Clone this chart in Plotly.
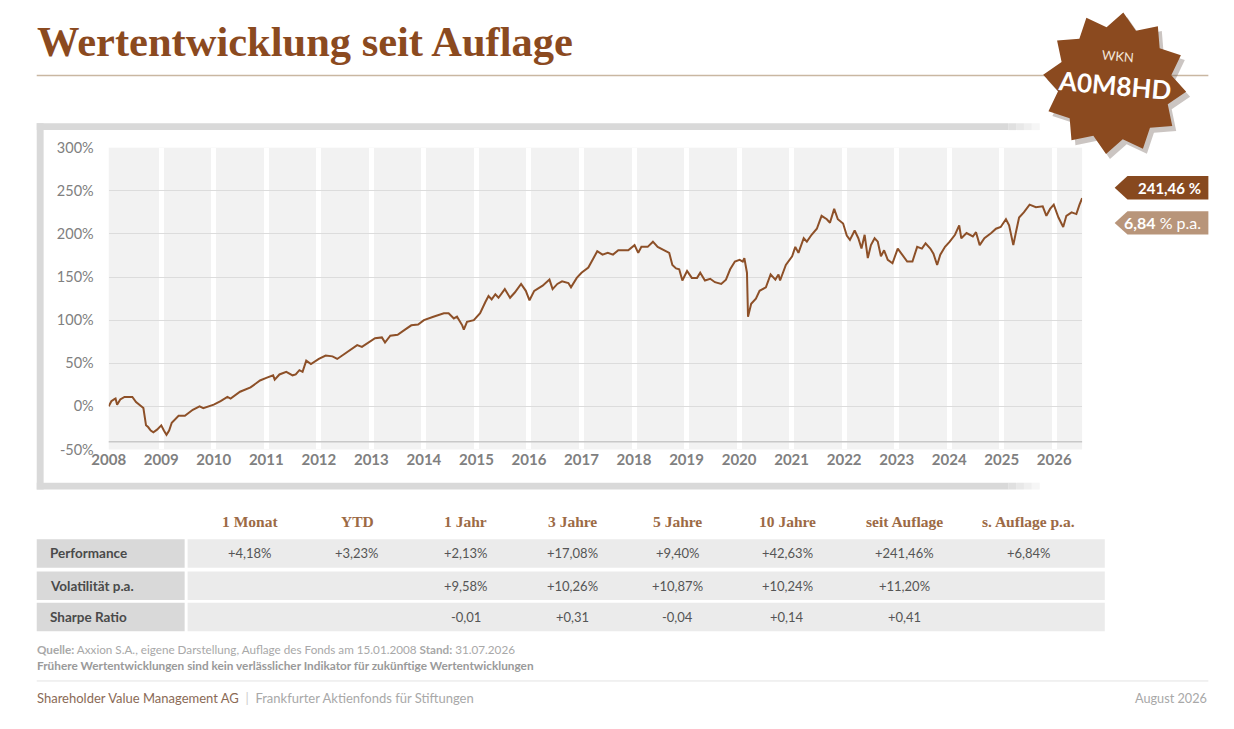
import math
import plotly.graph_objects as go

# fund performance since launch (decimal year, % since launch)
years = [
    2008.00, 2008.05, 2008.10, 2008.13, 2008.16, 2008.22, 2008.30, 2008.45, 2008.52, 2008.58,
    2008.66, 2008.71, 2008.75, 2008.80, 2008.85, 2008.92, 2009.00, 2009.05, 2009.10, 2009.15,
    2009.20, 2009.33, 2009.45, 2009.60, 2009.73, 2009.80, 2010.00, 2010.13, 2010.26, 2010.32,
    2010.50, 2010.70, 2010.88, 2011.00, 2011.13, 2011.16, 2011.25, 2011.38, 2011.50, 2011.56,
    2011.63, 2011.69, 2011.76, 2011.85, 2012.00, 2012.13, 2012.26, 2012.35, 2012.40, 2012.50,
    2012.63, 2012.73, 2012.82, 2012.95, 2013.07, 2013.20, 2013.26, 2013.36, 2013.50, 2013.64,
    2013.76, 2013.89, 2014.00, 2014.18, 2014.38, 2014.47, 2014.57, 2014.63, 2014.73, 2014.76,
    2014.82, 2014.95, 2015.07, 2015.17, 2015.23, 2015.29, 2015.36, 2015.42, 2015.54, 2015.64,
    2015.73, 2015.85, 2015.94, 2016.01, 2016.10, 2016.26, 2016.39, 2016.45, 2016.54, 2016.63,
    2016.75, 2016.80, 2016.91, 2017.00, 2017.13, 2017.23, 2017.30, 2017.40, 2017.50, 2017.60,
    2017.70, 2017.89, 2018.01, 2018.08, 2018.14, 2018.26, 2018.36, 2018.45, 2018.58, 2018.67,
    2018.73, 2018.80, 2018.86, 2018.92, 2019.01, 2019.10, 2019.20, 2019.26, 2019.35, 2019.45,
    2019.54, 2019.66, 2019.75, 2019.83, 2019.92, 2020.01, 2020.07, 2020.10, 2020.15, 2020.17,
    2020.23, 2020.32, 2020.39, 2020.51, 2020.60, 2020.69, 2020.75, 2020.78, 2020.89, 2021.01,
    2021.07, 2021.13, 2021.23, 2021.29, 2021.38, 2021.48, 2021.57, 2021.67, 2021.73, 2021.81,
    2021.88, 2021.98, 2022.05, 2022.11, 2022.20, 2022.27, 2022.33, 2022.39, 2022.45, 2022.51,
    2022.58, 2022.64, 2022.70, 2022.76, 2022.83, 2022.92, 2023.02, 2023.11, 2023.20, 2023.30,
    2023.39, 2023.48, 2023.55, 2023.64, 2023.70, 2023.77, 2023.83, 2023.92, 2024.01, 2024.11,
    2024.19, 2024.23, 2024.33, 2024.45, 2024.51, 2024.58, 2024.67, 2024.80, 2024.89, 2024.98,
    2025.08, 2025.14, 2025.22, 2025.27, 2025.33, 2025.42, 2025.53, 2025.65, 2025.78, 2025.85,
    2025.92, 2025.99, 2026.08, 2026.17, 2026.23, 2026.33, 2026.42, 2026.48, 2026.53,
]
perf = [
    0, 6, 8, 9, 2, 8, 11, 11, 5, 2,
    -2, -22, -24, -28, -30, -27, -22, -28, -33, -28,
    -19, -11, -11, -4, 0, -2, 2, 6, 11, 9,
    17, 22, 30, 33, 36, 31, 37, 40, 36, 37,
    42, 40, 53, 49, 55, 59, 58, 55, 57, 62,
    67, 71, 69, 74, 79, 80, 74, 82, 83, 89,
    94, 95, 100, 104, 108, 108, 102, 104, 94, 89,
    98, 100, 108, 121, 128, 124, 130, 126, 136, 126,
    132, 142, 134, 123, 134, 140, 147, 136, 142, 145,
    143, 138, 149, 155, 161, 172, 180, 176, 178, 176,
    181, 181, 187, 178, 185, 185, 191, 185, 181, 178,
    164, 160, 159, 146, 157, 149, 149, 155, 146, 148,
    144, 142, 147, 159, 168, 170, 168, 172, 155, 104,
    119, 125, 134, 138, 153, 147, 153, 146, 164, 174,
    185, 178, 195, 191, 199, 206, 221, 217, 213, 229,
    217, 212, 198, 193, 204, 195, 183, 199, 172, 187,
    195, 191, 174, 181, 170, 166, 183, 176, 168, 168,
    185, 183, 189, 183, 177, 164, 176, 185, 191, 199,
    210, 195, 201, 197, 202, 187, 195, 201, 206, 208,
    217, 210, 187, 202, 219, 225, 234, 231, 232, 221,
    229, 234, 219, 208, 221, 225, 223, 234, 241.46,
]
year_ticks = list(range(2008, 2027))
pct_ticks = [-50, 0, 50, 100, 150, 200, 250, 300]

total_label = "241,46 %"
pa_label = "6,84"
wkn = "A0M8HD"

headers = ["1 Monat", "YTD", "1 Jahr", "3 Jahre", "5 Jahre", "10 Jahre", "seit Auflage", "s. Auflage p.a."]
row_labels = ["Performance", "Volatilität p.a.", "Sharpe Ratio"]
performance = ["+4,18%", "+3,23%", "+2,13%", "+17,08%", "+9,40%", "+42,63%", "+241,46%", "+6,84%"]
volatility = ["", "", "+9,58%", "+10,26%", "+10,87%", "+10,24%", "+11,20%", ""]
sharpe = ["", "", "-0,01", "+0,31", "-0,04", "+0,14", "+0,41", ""]

W, H = 1234, 729
BROWN = "#8b4a1f"
SANS = "Lato"
SERIF = "Liberation Serif"


def px(x):
    return x / W


def py(y):
    return 1 - y / H


def rect(x0, y0, x1, y1, color, layer="above"):
    return dict(type="rect", xref="paper", yref="paper", x0=px(x0), x1=px(x1),
                y0=py(y1), y1=py(y0), fillcolor=color, line=dict(width=0), layer=layer)


def poly(points, color, opacity=1.0):
    d = "M " + " L ".join("{:.5f},{:.5f}".format(px(a), py(b)) for a, b in points) + " Z"
    return dict(type="path", xref="paper", yref="paper", path=d, fillcolor=color,
                line=dict(width=0), opacity=opacity)


def star(cx, cy, r_out, r_in, n, rot):
    pts = []
    for i in range(2 * n):
        r = r_out if i % 2 == 0 else r_in
        a = rot + math.pi * i / n
        pts.append((cx + r * math.sin(a), cy - r * math.cos(a)))
    return pts


fig = go.Figure()
fig.add_trace(go.Scatter(x=years, y=perf, mode="lines", hoverinfo="skip",
                         line=dict(color="#8d5028", width=2)))

shapes = []
# chart frame
shapes.append(rect(20, 117, 1005, 124, "#d9d9d9", "below"))
shapes.append(rect(20, 485, 1005, 492, "#d9d9d9", "below"))
shapes.append(rect(20, 117, 27, 492, "#d9d9d9", "below"))
for k, c in enumerate(["#e0e0e0", "#e8e8e8", "#efefef", "#f6f6f6"]):
    shapes.append(rect(1005 + 8 * k, 117, 1013 + 8 * k, 124, c, "below"))
    shapes.append(rect(1005 + 8 * k, 485, 1013 + 8 * k, 492, c, "below"))
# x axis line
shapes.append(dict(type="line", xref="x domain", yref="y", x0=0, x1=1, y0=-41, y1=-41,
                   line=dict(color="#c8c8c8", width=1.5)))
# title rule
shapes.append(dict(type="line", xref="paper", yref="paper", x0=px(20), x1=px(1208),
                   y0=py(68), y1=py(68), line=dict(color="#c9b7a2", width=1.5)))
# badge
shapes.append(poly(star(1117, 81, 73, 58, 12, 0.12), "#6b5a50", 0.35))
shapes.append(poly(star(1113, 76, 73, 58, 12, 0.12), BROWN))
# tags
shapes.append(poly([(1113, 183), (1126, 171), (1208, 171), (1208, 195), (1126, 195)], "#87491f"))
shapes.append(poly([(1113, 219), (1126, 207), (1208, 207), (1208, 231), (1126, 231)], "#b8957a"))
# footer rule
shapes.append(dict(type="line", xref="paper", yref="paper", x0=px(20), x1=px(1208),
                   y0=py(688), y1=py(688), line=dict(color="#e3e3e3", width=1)))

# table cells
row_y = [(543, 572), (576, 605), (608, 637)]
col_x = [236, 345, 455, 563, 670, 781, 900, 1026]
for y0, y1 in row_y:
    shapes.append(rect(20, y0, 170, y1, "#d9d9d9"))
    shapes.append(rect(173, y0, 1103, y1, "#ebebeb"))

ann = []


def text(x, y, s, size, color, family=SANS, xanchor="left", weight="normal", angle=0):
    ann.append(dict(xref="paper", yref="paper", x=px(x), y=py(y), text=s, showarrow=False,
                    xanchor=xanchor, yanchor="middle", textangle=angle,
                    font=dict(family=family, size=size, color=color, weight=weight)))


text(18, 33, "Wertentwicklung seit Auflage", 42.5, BROWN, SERIF, weight="bold")
text(1116, 48, "WKN", 13, "#f3e6da", angle=5, xanchor="center")
text(1113, 78, wkn, 26, "white", angle=5, xanchor="center", weight="bold")
text(1203, 183, total_label, 15, "white", xanchor="right", weight="bold")
text(1203, 219, "<b>" + pa_label + "</b> % p.a.", 16, "white", xanchor="right")

for cx, h in zip(col_x, headers):
    text(cx, 525, h, 15.5, "#9c6a45", SERIF, xanchor="center", weight="bold")
for (y0, y1), lab, vals in zip(row_y, row_labels, [performance, volatility, sharpe]):
    cy = (y0 + y1) / 2
    text(31, cy, lab, 13.5, "#4a4a4a", weight="bold")
    for cx, v in zip(col_x, vals):
        if v:
            text(cx, cy, v, 13, "#555555", xanchor="center")

text(18, 655, "<b>Quelle:</b> Axxion S.A., eigene Darstellung, Auflage des Fonds am 15.01.2008 "
     "<b>Stand:</b> 31.07.2026", 11.7, "#a8a8a8")
text(18, 672, "<b>Frühere Wertentwicklungen sind kein verlässlicher Indikator für zukünftige "
     "Wertentwicklungen</b>", 11.8, "#9a9a9a")
text(18, 705, "<span style='color:#8a6a55'>Shareholder Value Management AG</span>"
     "<span style='color:#cccccc'>  |  </span>Frankfurter Aktienfonds für Stiftungen",
     13, "#a8a8a8")
text(1209, 705, "August 2026", 12.7, "#a8a8a8", xanchor="right")

fig.update_layout(
    width=W, height=H, margin=dict(l=0, r=0, t=0, b=0),
    paper_bgcolor="white", plot_bgcolor="#f2f2f2", showlegend=False,
    shapes=shapes, annotations=ann,
)
fig.update_xaxes(domain=[px(93), px(1080)], range=[2008, 2026.53], tickvals=year_ticks,
                 ticktext=[str(t) for t in year_ticks], showgrid=True, gridcolor="white",
                 gridwidth=5, zeroline=False, showline=False, ticks="",
                 tickfont=dict(family=SANS, size=15, color="#808080", weight="bold"))
fig.update_yaxes(domain=[py(451), py(142)], range=[-50, 300], tickvals=pct_ticks,
                 ticktext=["{}%".format(t) for t in pct_ticks], showgrid=True,
                 gridcolor="#dcdcdc", gridwidth=1, zeroline=False, showline=False, ticks="",
                 ticklabelstandoff=14, tickfont=dict(family=SANS, size=14.5, color="#808080"))

page_fix = ("document.documentElement.style.overflow='hidden';"
            "document.body.style.margin='0';document.body.style.overflow='hidden';")
fig.write_html("out.html", config={"displayModeBar": False}, post_script=page_fix)
